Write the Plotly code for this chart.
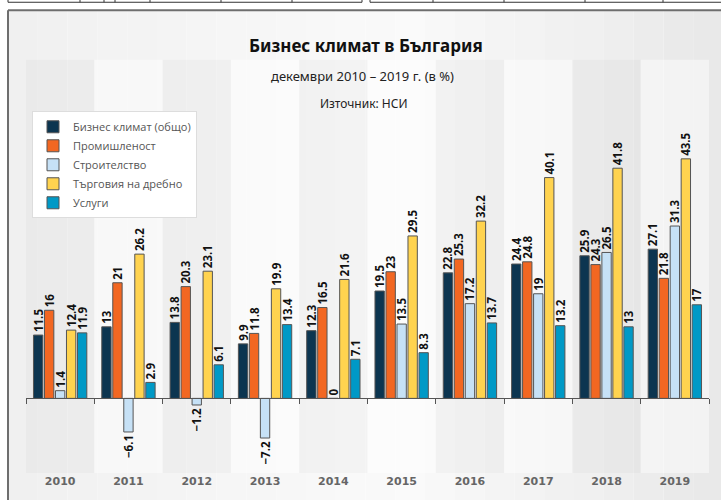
import plotly.graph_objects as go

years = ["2010", "2011", "2012", "2013", "2014", "2015", "2016", "2017", "2018", "2019"]
series_names = ["Бизнес климат (общо)", "Промишленост", "Строителство", "Търговия на дребно", "Услуги"]
business_climate = [11.5, 13, 13.8, 9.9, 12.3, 19.5, 22.8, 24.4, 25.9, 27.1]
industry = [16, 21, 20.3, 11.8, 16.5, 23, 25.3, 24.8, 24.3, 21.8]
construction = [1.4, -6.1, -1.2, -7.2, 0, 13.5, 17.2, 19, 26.5, 31.3]
retail = [12.4, 26.2, 23.1, 19.9, 21.6, 29.5, 32.2, 40.1, 41.8, 43.5]
services = [11.9, 2.9, 6.1, 13.4, 7.1, 8.3, 13.7, 13.2, 13, 17]
series_values = [business_climate, industry, construction, retail, services]
colors = ["#0c3550", "#f26722", "#c6e1f6", "#ffd34f", "#0099c6"]

W, H = 721, 500
ML, MR, MT, MB = 26, 12, 30, 23
PW, PH = W - ML - MR, H - MT - MB
Y0, Y1 = -13.55, 66.9


def px(x):
    return (x - ML) / PW


def py(y):
    return (H - MB - y) / PH


fig = go.Figure()
for name, vals, col in zip(series_names, series_values, colors):
    fig.add_trace(go.Bar(
        x=years, y=vals, name=name,
        marker=dict(color=col, line=dict(color="#555555", width=1)),
        texttemplate="%{y}", textposition="outside", textangle=-90,
        textfont=dict(family="Open Sans", size=11.5, color="#111111", weight="bold"),
        cliponaxis=False, constraintext="none", hoverinfo="x+y+name",
    ))

# invisible trace for zero-line axis
fig.add_trace(go.Scatter(x=[-0.5, 9.5], y=[0, 0], xaxis="x2", mode="lines",
                         line=dict(width=0), showlegend=False, hoverinfo="skip"))

shapes = []
# top strip of previous table
shapes.append(dict(type="line", xref="paper", yref="paper", x0=px(8), x1=px(362), y0=py(2), y1=py(2),
                   line=dict(color="#333", width=1)))
shapes.append(dict(type="line", xref="paper", yref="paper", x0=px(370), x1=px(721), y0=py(2), y1=py(2),
                   line=dict(color="#333", width=1)))
for vx in [8, 80, 104, 115, 150, 221, 292, 362, 370, 433, 504, 585, 663]:
    shapes.append(dict(type="line", xref="paper", yref="paper", x0=px(vx), x1=px(vx), y0=py(-2), y1=py(2),
                       line=dict(color="#333", width=1)))
# frame gradient background
n = 24
for i in range(n):
    xa = 8 + (W + 2 - 8) * i / n
    xb = 8 + (W + 2 - 8) * (i + 1) / n
    t = (i + 0.5) / n
    if t < 0.55:
        v = 240 + (250 - 240) * (t / 0.55)
    else:
        v = 250 - (250 - 232) * ((t - 0.55) / 0.45)
    c = int(round(v))
    shapes.append(dict(type="rect", xref="paper", yref="paper", x0=px(xa), x1=px(xb), y0=py(H + 5), y1=py(10),
                       fillcolor=f"rgb({c},{c},{c})", line=dict(width=0), layer="below"))
# alternating bands
for i in range(len(years)):
    fc = "rgba(0,0,0,0.025)" if i % 2 == 0 else "rgba(255,255,255,0.45)"
    shapes.append(dict(type="rect", xref="x", yref="paper", x0=i - 0.5, x1=i + 0.5, y0=0, y1=py(60),
                       fillcolor=fc, line=dict(width=0), layer="below"))
# frame border
shapes.append(dict(type="line", xref="paper", yref="paper", x0=px(8), x1=px(W + 5), y0=py(10), y1=py(10),
                   line=dict(color="#6e6e6e", width=2)))
shapes.append(dict(type="line", xref="paper", yref="paper", x0=px(8), x1=px(8), y0=py(10), y1=py(H + 5),
                   line=dict(color="#6e6e6e", width=2)))

annotations = [
    dict(text="<b>Бизнес климат в България</b>", x=px(366), y=py(46), xref="paper", yref="paper",
         showarrow=False, font=dict(family="Noto Sans", size=17, color="#111"), xanchor="center", yanchor="middle"),
    dict(text="декември 2010 – 2019 г. (в %)", x=px(362), y=py(76), xref="paper", yref="paper",
         showarrow=False, font=dict(family="Noto Sans", size=13, color="#222"), xanchor="center", yanchor="middle"),
    dict(text="Източник: НСИ", x=px(364), y=py(104), xref="paper", yref="paper",
         showarrow=False, font=dict(family="Noto Sans", size=12, color="#222"), xanchor="center", yanchor="middle"),
]

fig.update_layout(
    width=W, height=H,
    margin=dict(l=ML, r=MR, t=MT, b=MB),
    paper_bgcolor="white", plot_bgcolor="rgba(0,0,0,0)",
    barmode="group", bargap=0.195, bargroupgap=0.15,
    shapes=shapes, annotations=annotations,
    xaxis=dict(type="category", range=[-0.5, 9.5], showgrid=False, showline=False, ticks="",
               tickfont=dict(family="DejaVu Sans", size=11, color="#666", weight="bold"), fixedrange=True),
    xaxis2=dict(overlaying="x", range=[-0.5, 9.5], anchor="free", position=-Y0 / (Y1 - Y0),
                showgrid=False, zeroline=False, showline=True, linecolor="#555", linewidth=1,
                ticks="outside", ticklen=5, tickcolor="#555", tickvals=[i - 0.5 for i in range(11)],
                showticklabels=False),
    yaxis=dict(range=[Y0, Y1], visible=False, showgrid=False, zeroline=False),
    legend=dict(x=px(32), y=py(112), xanchor="left", yanchor="top", bgcolor="white",
                bordercolor="#dddddd", borderwidth=1,
                font=dict(family="Open Sans", size=11, color="#555"), tracegroupgap=0,
                itemwidth=30),
    showlegend=True,
)

fig.write_html("out.html", config={"displayModeBar": False},
               post_script="document.body.style.margin='0';document.body.style.overflow='hidden';")
